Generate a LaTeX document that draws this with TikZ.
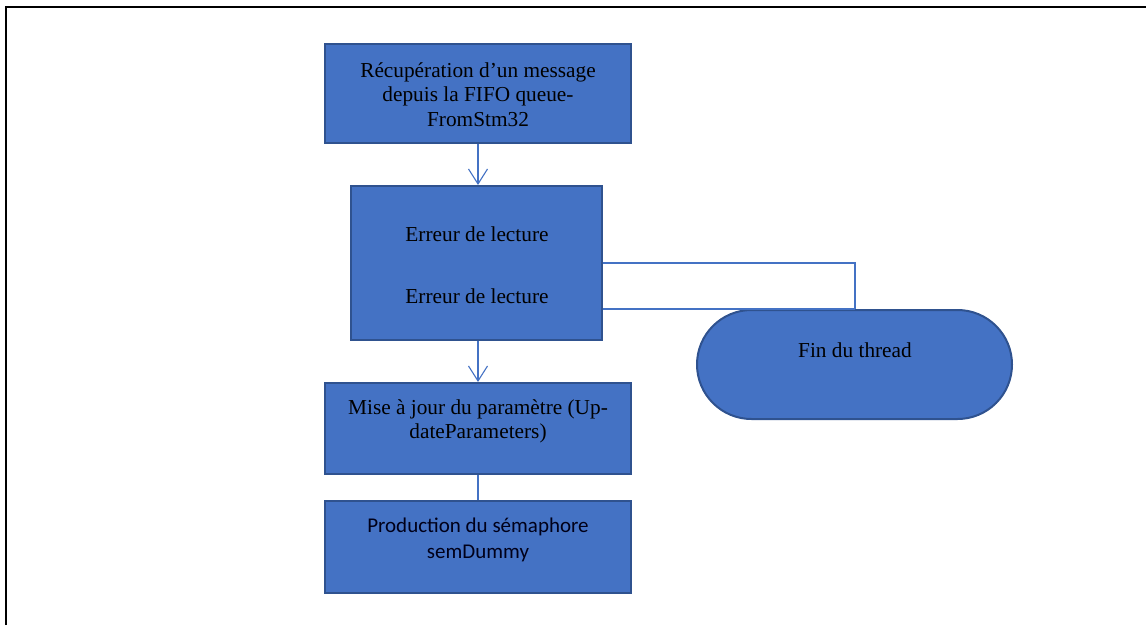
\documentclass[tikz,border=0pt]{standalone}
\usepackage{fontspec}
\newfontfamily\tnr{Liberation Serif}
\newfontfamily\calib{Carlito}
\usetikzlibrary{arrows.meta,shapes.misc}
\definecolor{boxfill}{HTML}{4472C4}
\definecolor{boxline}{HTML}{2F528F}
\definecolor{conn}{HTML}{4472C4}
\tikzset{
  box/.style={draw=boxline, fill=boxfill, line width=2pt, rectangle, inner sep=0pt},
  term/.style={draw=boxline, fill=boxfill, line width=2pt, rounded rectangle, inner sep=0pt},
  txt/.style={font=\tnr\fontsize{21.3}{24.5}\selectfont, align=center, text=black, inner sep=0pt},
  stxt/.style={font=\calib\fontsize{21}{26}\selectfont, align=center, text=black!90!blue, inner sep=0pt},
  conn/.style={draw=conn, line width=1.1pt},
  arr/.style={conn, -{Straight Barb[length=15pt,width=19pt,line width=1.1pt]}},
}
\begin{document}
\begin{tikzpicture}[x=1pt,y=-1pt]
\useasboundingbox (0,0) rectangle (1146,625);
\draw[line width=1.3pt] (6,625) -- (6,7) -- (1146,7);
% boxes
\node[box, minimum width=306pt, minimum height=99pt] (b1) at (478,93.5) {};
\node[box, minimum width=251pt, minimum height=154pt] (b2) at (476.5,263) {};
\node[box, minimum width=306pt, minimum height=91pt] (b3) at (478,428.5) {};
\node[box, minimum width=306pt, minimum height=92pt] (b4) at (478,547) {};
\node[term, minimum width=315pt, minimum height=109pt] (t) at (854.5,364.5) {};
% texts
\node[txt] (b1t) at (478,94.5) {Récupération d’un message\\depuis la FIFO queue-\\FromStm32};
\node[txt] (b2a) at (477,234.5) {Erreur de lecture};
\node[txt] (b2b) at (477,296.5) {Erreur de lecture};
\node[txt] (b3t) at (478,421.5) {Mise à jour du paramètre (Up-\\dateParameters)};
\node[stxt] (b4t) at (478,540) {Production du sémaphore\\semDummy};
\node[txt] (tt) at (855,350.5) {Fin du thread};
% connectors
\coordinate (c1) at (855,263);
\draw[arr] (b1.south -| b1t) -- (b2.north -| b1t);
\draw[arr] (b2.south -| b1t) -- (b3.north -| b1t);
\draw[conn] (b3.south -| b1t) -- (b4.north -| b1t);
\draw[conn] (b2.east |- c1) -- (c1) -- (c1 |- t.north);
\draw[conn] (b2.east |- t.north) -- (c1 |- t.north);
\end{tikzpicture}
\end{document}
